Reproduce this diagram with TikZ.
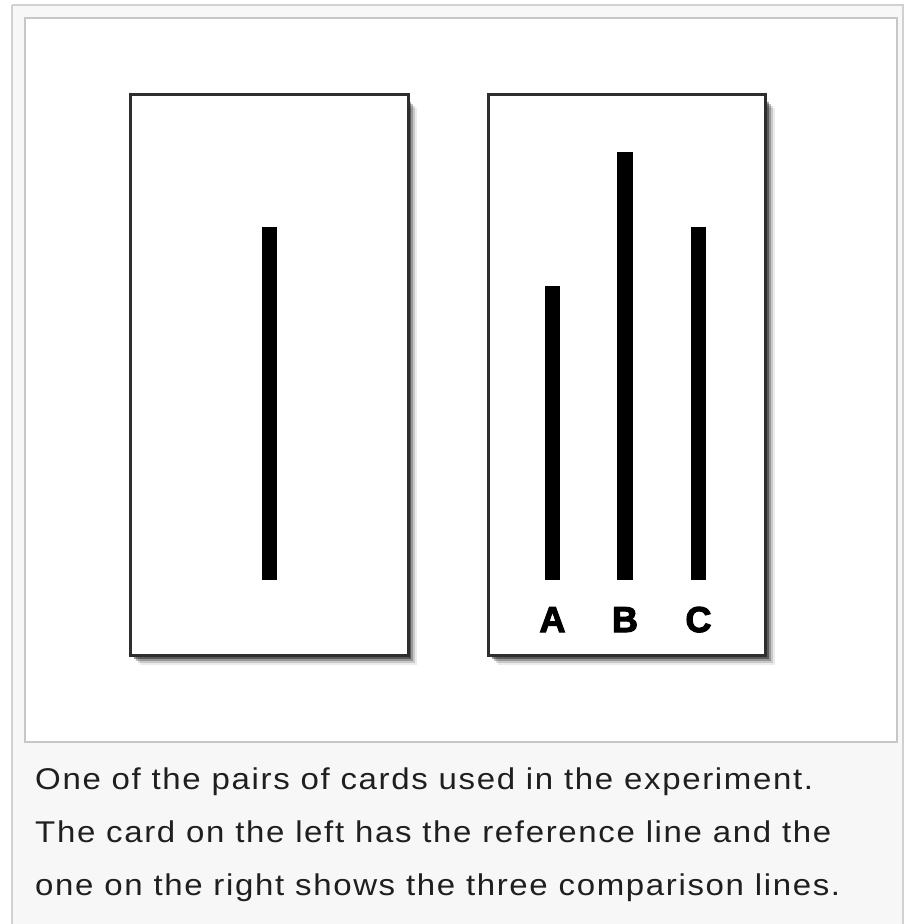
\documentclass[tikz,border=0pt]{standalone}
\usepackage{fontspec}
\setmainfont{Liberation Sans}
\newfontfamily\capfont[LetterSpace=5]{Liberation Sans}
\newfontfamily\heavyfont[FakeBold=3]{Liberation Sans Bold}
\newcommand{\widecap}[1]{\scalebox{1.1}[1]{#1}}
\begin{document}
\begin{tikzpicture}[x=1pt,y=-1pt,
  framebox/.style={draw=#1,line width=1.6pt},
  card/.style={draw=black!82,line width=3pt,fill=white},
  bar/.style={fill=black},
  lbl/.style={font=\heavyfont\fontsize{36}{36}\selectfont,inner sep=0pt,anchor=base},
  caption/.style={font=\capfont\fontsize{30}{53}\selectfont,text=black!88,anchor=base west,inner sep=0pt}]
\useasboundingbox (0,0) rectangle (915,924);
\fill[white] (0,0) rectangle (915,924);
% outer thumbnail frame and inner image frame
\fill[black!3] (12,5) rectangle (903,924);
\draw[framebox=black!18] (12,5) -- (903,5) -- (903,924) (12,5) -- (12,924);
\fill[white] (25,18) rectangle (897,742);
\draw[framebox=black!22,line width=1.2pt] (25,18) rectangle (897,742);
% soft card shadows
\foreach \cx in {130,488}{
  \foreach \s/\o in {10/0.08,8/0.14,6/0.25,4/0.4}{
    \fill[black,opacity=\o] (\cx+\s,94+\s+4) rectangle (\cx+277+\s,655+\s);
  }
}
% cards
\node[card,minimum width=278pt,minimum height=561pt,inner sep=0pt] (leftcard) at (269,374.5) {};
\node[card,minimum width=277pt,minimum height=561pt,inner sep=0pt] (rightcard) at (626.5,374.5) {};
% reference line
\fill[bar] (262,227) rectangle (277,580);
% comparison lines
\fill[bar] (545,286) rectangle (560,580);
\fill[bar] (617,152) rectangle (633,580);
\fill[bar] (691,227) rectangle (706,580);
\node[lbl] (la) at (552.5,632) {A};
\node[lbl] (lb) at (625,632) {B};
\node[lbl] (lc) at (698.5,632) {C};
% caption
\node[caption] (cap1) at (35,789) {\widecap{One of the pairs of cards used in the experiment.}};
\node[caption] (cap2) at (35,842) {\widecap{The card on the left has the reference line and the}};
\node[caption] (cap3) at (35,895) {\widecap{one on the right shows the three comparison lines.}};
\end{tikzpicture}
\end{document}
